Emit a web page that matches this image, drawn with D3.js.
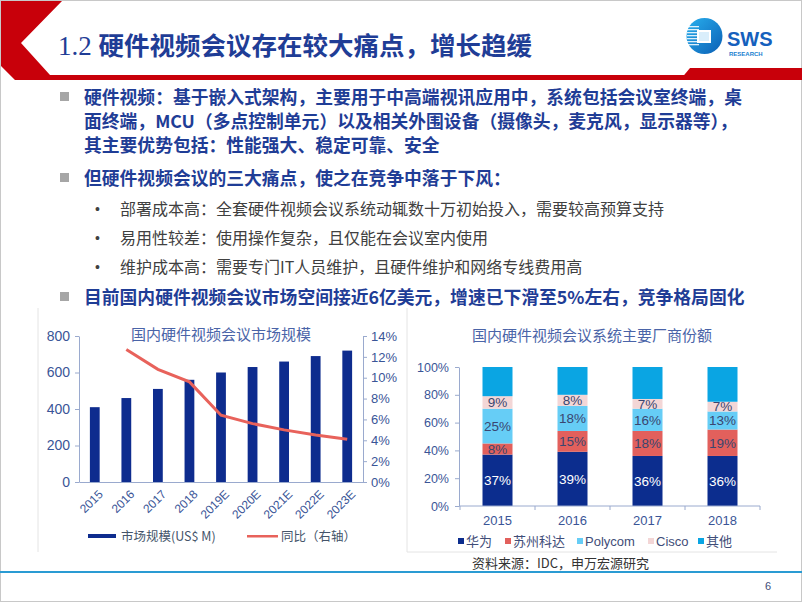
<!DOCTYPE html>
<html><head><meta charset="utf-8">
<script src="https://cdn.jsdelivr.net/npm/d3@7"></script>
<style>body{margin:0;background:#fff}svg{display:block}</style>
</head><body><svg id="c" width="802" height="602"></svg>
<script>
// ---------- data ----------
const years = ["2015","2016","2017","2018","2019E","2020E","2021E","2022E","2023E"];
const marketSize = [410,460,510,560,600,630,660,690,720];
const growth = [null,0.127,0.108,0.096,0.064,0.056,0.050,0.045,0.041];
const leftTicks = [0,200,400,600,800];
const rightTicks = [0,0.02,0.04,0.06,0.08,0.10,0.12,0.14];
const leftLegend = ["市场规模(US$ M)","同比（右轴）"];

const shareYears = ["2015","2016","2017","2018"];
const vendors = ["华为","苏州科达","Polycom","Cisco","其他"];
const huawei  = [0.37,0.39,0.36,0.36];
const kedacom = [0.08,0.15,0.18,0.19];
const polycom = [0.25,0.18,0.16,0.13];
const cisco   = [0.09,0.08,0.07,0.07];
const others  = [0.21,0.20,0.23,0.25];
const shareTicks = [0,0.2,0.4,0.6,0.8,1.0];

const titleText = "硬件视频会议存在较大痛点，增长趋缓";
const bullets = [
  {lines:["硬件视频：基于嵌入式架构，主要用于中高端视讯应用中，系统包括会议室终端，桌",
          "面终端，MCU（多点控制单元）以及相关外围设备（摄像头，麦克风，显示器等），",
          "其主要优势包括：性能强大、稳定可靠、安全"], ys:[97,121,145]},
  {lines:["但硬件视频会议的三大痛点，使之在竞争中落于下风："], ys:[178]},
];
const subBullets = [
  {t:"部署成本高：全套硬件视频会议系统动辄数十万初始投入，需要较高预算支持", y:209},
  {t:"易用性较差：使用操作复杂，且仅能在会议室内使用", y:238},
  {t:"维护成本高：需要专门IT人员维护，且硬件维护和网络专线费用高", y:267},
];
const bullet3 = {t:"目前国内硬件视频会议市场空间接近6亿美元，增速已下滑至5%左右，竞争格局固化", y:297};

// ---------- drawing ----------
const svg = d3.select("#c");
const CJK = "'Noto Sans CJK SC','Noto Sans',sans-serif";
const LAT = "'Liberation Sans',Arial,'Noto Sans CJK SC',sans-serif";
const blue = "#1F3D96";
const tickCol = "#3A5597";
const axisCol = "#9AAACE";

svg.append("rect").attr("x",0.5).attr("y",0.5).attr("width",801).attr("height",601)
  .attr("fill","#fff").attr("stroke","#c8c8c8");

// header chevron and bar
svg.append("polygon").attr("points","1,1 62,1 21,43 50,75 802,75 802,80 15,80 1,66").attr("fill","#C8000A");
svg.append("polygon").attr("points","680,80 690,68 802,68 802,80").attr("fill","#C8000A");

// title
const tt = svg.append("text").attr("x",58).attr("y",55).attr("fill",blue)
  .style("font-size","25.5px");
tt.append("tspan").style("font-family","'Liberation Serif',serif").style("font-size","27px").text("1.2 ");
tt.append("tspan").style("font-family",CJK).style("font-weight",700).text(titleText);

// logo
const defs = svg.append("defs");
const lg = defs.append("linearGradient").attr("id","lg").attr("x1","0").attr("y1","0").attr("x2","1").attr("y2","1");
lg.append("stop").attr("offset","0").attr("stop-color","#29B0EE");
lg.append("stop").attr("offset","1").attr("stop-color","#0B5FB5");
svg.append("circle").attr("cx",704.5).attr("cy",36).attr("r",18).attr("fill","url(#lg)");
for (let i=0;i<7;i++){
  svg.append("rect").attr("x",687).attr("y",26+i*3).attr("width",12).attr("height",1.3).attr("fill","#fff").attr("opacity",0.85);
}
svg.append("rect").attr("x",697).attr("y",30).attr("width",14).attr("height",13).attr("fill","#fff");
svg.append("rect").attr("x",699).attr("y",32).attr("width",10).attr("height",9).attr("fill","#d9eefb");
svg.append("text").attr("x",727).attr("y",46).attr("fill","#1560BD").style("font-family",LAT)
  .style("font-weight",700).style("font-size","20px").text("SWS");
svg.append("text").attr("x",729).attr("y",56).attr("fill","#1a7fd0").style("font-family",LAT)
  .style("font-weight",700).style("font-size","6px").text("RESEARCH");

// bullets
function sq(y){ svg.append("rect").attr("x",60).attr("y",y-5).attr("width",9).attr("height",9).attr("fill","#A6A6A6"); }
bullets.forEach(b=>{
  sq(b.ys[0]);
  b.lines.forEach((l,i)=>{
    svg.append("text").attr("x",84).attr("y",b.ys[i]+6.5).attr("fill",blue)
      .style("font-family",CJK).style("font-weight",700).style("font-size","17.8px").text(l);
  });
});
subBullets.forEach(s=>{
  svg.append("text").attr("x",95).attr("y",s.y+5).attr("fill","#404040").style("font-family",LAT).style("font-size","14px").text("•");
  svg.append("text").attr("x",120).attr("y",s.y+5.5).attr("fill","#404040")
    .style("font-family",CJK).style("font-size","16px").text(s.t);
});
sq(bullet3.y);
svg.append("text").attr("x",84).attr("y",bullet3.y+6.5).attr("fill",blue)
  .style("font-family",CJK).style("font-weight",700).style("font-size","17.8px").text(bullet3.t);

// panel frames
svg.append("line").attr("x1",38).attr("x2",38).attr("y1",308).attr("y2",552).attr("stroke","#e4e4e4");
svg.append("line").attr("x1",407).attr("x2",407).attr("y1",308).attr("y2",552).attr("stroke","#e4e4e4");
svg.append("line").attr("x1",407).attr("x2",777).attr("y1",552).attr("y2",552).attr("stroke","#e4e4e4");

// ---------- left chart ----------
const xL = d3.scaleBand().domain(years).range([79,363]).paddingInner(0.69).paddingOuter(0.345);
const yL = d3.scaleLinear().domain([0,800]).range([482,336]);
const yR = d3.scaleLinear().domain([0,0.14]).range([482,336]);
const gL = svg.append("g");
gL.append("text").attr("x",221).attr("y",340).attr("text-anchor","middle").attr("fill","#4A64A8")
  .style("font-family",CJK).style("font-size","15px").text("国内硬件视频会议市场规模");

gL.selectAll("rect.bar").data(years).join("rect").attr("class","bar")
  .attr("x",d=>xL(d)).attr("width",xL.bandwidth())
  .attr("y",(d,i)=>yL(marketSize[i])).attr("height",(d,i)=>yL(0)-yL(marketSize[i]))
  .attr("fill","#0E2C8E");

function styleAxis(g){
  g.selectAll("path,line").attr("stroke",axisCol);
  g.selectAll("text").attr("fill",tickCol).style("font-family",LAT);
}
const axL = gL.append("g").attr("transform","translate(79,0)")
  .call(d3.axisLeft(yL).tickValues(leftTicks).tickSize(4).tickSizeOuter(0).tickPadding(5));
styleAxis(axL); axL.selectAll("text").style("font-size","14px");
const axR = gL.append("g").attr("transform","translate(363,0)")
  .call(d3.axisRight(yR).tickValues(rightTicks).tickSize(4).tickSizeOuter(0).tickPadding(4).tickFormat(d3.format(".0%")));
styleAxis(axR); axR.selectAll("text").style("font-size","13px");
const axB = gL.append("g").attr("transform","translate(0,482)")
  .call(d3.axisBottom(xL).tickSize(0).tickSizeOuter(0));
styleAxis(axB);
axB.selectAll("text").style("font-size","12px").attr("text-anchor","end")
  .attr("transform","translate(6,10) rotate(-45)").attr("dy","0.35em").attr("y",0).attr("x",0);

const line = d3.line().defined(d=>d.v!=null).x(d=>xL(d.k)+xL.bandwidth()/2).y(d=>yR(d.v));
gL.append("path").datum(years.map((k,i)=>({k,v:growth[i]}))).attr("d",line)
  .attr("fill","none").attr("stroke","#E8625B").attr("stroke-width",3);

// legend left
gL.append("rect").attr("x",88).attr("y",534).attr("width",28).attr("height",4).attr("fill","#0E2C8E");
gL.append("text").attr("x",121).attr("y",540.5).attr("fill","#44546A").style("font-family",CJK).style("font-size","12.5px").text(leftLegend[0]);
gL.append("rect").attr("x",247).attr("y",535).attr("width",31).attr("height",2.5).attr("fill","#E8625B");
gL.append("text").attr("x",281).attr("y",540.5).attr("fill","#44546A").style("font-family",CJK).style("font-size","12.5px").text(leftLegend[1]);

// ---------- right chart ----------
const xS = d3.scaleBand().domain(shareYears).range([460,760]).paddingInner(0.6).paddingOuter(0.3);
const yS = d3.scaleLinear().domain([0,1]).range([506,367]);
const colors = ["#0C2D8E","#E2605C","#66CDF6","#F3D6D6","#0AA5E3"];
const labelCols = ["#ffffff","#3A4670","#3A4670","#3A4670",null];
const series = [huawei,kedacom,polycom,cisco,others];
const rows = shareYears.map((y,i)=>{ const o={year:y}; vendors.forEach((v,j)=>o[v]=series[j][i]); return o; });
const stacked = d3.stack().keys(vendors)(rows);
const gR = svg.append("g");
gR.append("text").attr("x",592).attr("y",341).attr("text-anchor","middle").attr("fill","#4A64A8")
  .style("font-family",CJK).style("font-size","15px").text("国内硬件视频会议系统主要厂商份额");
stacked.forEach((s,j)=>{
  gR.selectAll(null).data(s).join("rect")
    .attr("x",d=>xS(d.data.year)).attr("width",xS.bandwidth())
    .attr("y",d=>yS(d[1])).attr("height",d=>yS(d[0])-yS(d[1])).attr("fill",colors[j]);
  if (labelCols[j]) {
    gR.selectAll(null).data(s).join("text")
      .attr("x",d=>xS(d.data.year)+xS.bandwidth()/2).attr("y",d=>(yS(d[0])+yS(d[1]))/2)
      .attr("dy","0.36em").attr("text-anchor","middle").attr("fill",labelCols[j])
      .style("font-family",LAT).style("font-size","13.5px")
      .text(d=>Math.round((d[1]-d[0])*100)+"%");
  }
});
const axS = gR.append("g").attr("transform","translate(459,0)")
  .call(d3.axisLeft(yS).tickValues(shareTicks).tickSize(4).tickSizeOuter(0).tickPadding(6).tickFormat(d3.format(".0%")));
styleAxis(axS); axS.selectAll("text").style("font-size","12.5px");
const axSB = gR.append("g").attr("transform","translate(0,506)")
  .call(d3.axisBottom(xS).tickSize(0).tickSizeOuter(0).tickPadding(10));
styleAxis(axSB); axSB.selectAll("text").style("font-size","13px");
axSB.select("path.domain").attr("d","M459,0H760");
const step = xS.step();
gR.selectAll(null).data(d3.range(shareYears.length+1)).join("line")
  .attr("x1",d=>460+d*step).attr("x2",d=>460+d*step).attr("y1",506).attr("y2",510).attr("stroke",axisCol);

// legend right
const legX = [458,505,577,648,698];
vendors.forEach((v,j)=>{
  gR.append("rect").attr("x",legX[j]).attr("y",538).attr("width",6).attr("height",6).attr("fill",colors[j]);
  gR.append("text").attr("x",legX[j]+8).attr("y",546).attr("fill","#3F4D78")
    .style("font-family",j==2||j==3?LAT:CJK).style("font-size","13px").text(v);
});

// footer
svg.append("line").attr("x1",0).attr("x2",802).attr("y1",572).attr("y2",572).attr("stroke","#2A9BD3").attr("stroke-width",2);
svg.append("text").attr("x",472).attr("y",568).attr("fill","#333").style("font-family",CJK).style("font-size","13px").text("资料来源：IDC，申万宏源研究");
svg.append("text").attr("x",765).attr("y",590).attr("fill","#3F4D78").style("font-family",LAT).style("font-size","11px").text("6");
</script></body></html>
